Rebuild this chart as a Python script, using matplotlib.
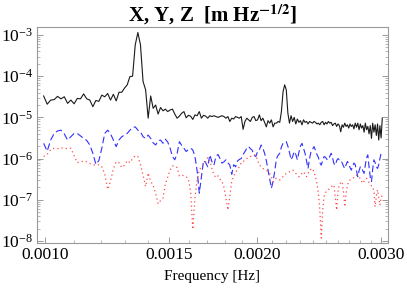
import numpy as np
import matplotlib
matplotlib.use("Agg")
import matplotlib.pyplot as plt
from matplotlib.ticker import FixedLocator, FixedFormatter, LogLocator, LogFormatterMathtext, NullFormatter

plt.rcParams['font.family'] = ['Liberation Serif', 'DejaVu Serif']
plt.rcParams['mathtext.fontset'] = 'stix'

# frequency bins (index k, frequency = k / 86400 Hz)
k_start = 86
bin_width_hz = 1.0 / 86400.0

# log10 of amplitude spectral densities [m Hz^-1/2]
x_log = [
    -4.48, -4.68, -4.58, -4.57, -4.49, -4.55, -4.50, -4.66, -4.58, -4.67,
    -4.54, -4.55, -4.43, -4.55, -4.58, -4.74, -4.59, -4.61, -4.46, -4.50,
    -4.42, -4.58, -4.44, -4.60, -4.39, -4.39, -4.29, -4.21, -4.01, -4.00,
    -3.24, -2.94, -3.24, -4.13, -4.33, -5.02, -4.48, -4.78, -4.70, -4.92,
    -4.76, -4.84, -4.80, -4.86, -4.82, -4.80, -4.92, -5.02, -4.97, -4.90,
    -4.86, -5.01, -4.95, -4.97, -5.05, -4.94, -4.96, -4.86, -5.02, -4.95,
    -4.97, -5.02, -4.96, -4.98, -4.96, -4.98, -5.00, -4.98, -4.96, -4.98,
    -5.02, -4.98, -5.10, -5.02, -5.04, -4.98, -5.00, -5.02, -4.98, -5.29,
    -5.10, -5.02, -5.06, -5.10, -5.00, -4.98, -5.08, -5.06, -4.94, -5.08,
    -5.02, -5.12, -5.23, -5.08, -5.14, -5.06, -5.23, -5.14, -5.14, -5.10,
    -5.12, -4.86, -4.38, -4.21, -4.33, -4.90, -5.14, -4.96, -5.10, -5.00,
    -5.16, -5.04, -5.12, -5.08, -5.18, -5.06, -5.12, -5.10, -5.16, -5.10,
    -5.12, -5.14, -5.10, -5.12, -5.16, -5.14, -5.18, -5.12, -5.10, -5.18,
    -5.12, -5.16, -5.10, -5.14, -5.12, -5.20, -5.16, -5.14, -5.22, -5.16,
    -5.20, -5.35, -5.18, -5.24, -5.14, -5.22, -5.18, -5.26, -5.16, -5.22,
    -5.18, -5.28, -5.14, -5.24, -5.14, -5.30, -5.16, -5.26, -5.20, -5.36,
    -5.14, -5.30, -5.22, -5.40, -5.20, -5.51, -5.14, -5.36, -5.18, -5.44,
    -5.16, -5.55, -5.20, -5.50, -5.02,
]

y_log = [
    -5.63, -5.82, -5.55, -5.39, -5.33, -5.31, -5.40, -5.55, -5.47, -5.39,
    -5.39, -5.45, -5.51, -5.56, -5.67, -5.87, -6.14, -6.05, -5.75, -5.39,
    -5.31, -5.40, -5.55, -5.71, -5.55, -5.47, -5.43, -5.39, -5.31, -5.25,
    -5.23, -5.31, -5.35, -5.47, -5.51, -5.43, -5.51, -5.62, -5.67, -5.57,
    -5.55, -5.63, -5.53, -5.60, -5.75, -5.95, -6.03, -5.88, -5.59, -5.68,
    -5.75, -5.83, -5.78, -5.75, -5.79, -5.95, -6.30, -6.84, -6.45, -6.05,
    -6.10, -6.20, -5.91, -6.07, -6.16, -5.95, -5.90, -6.00, -6.11, -6.08,
    -6.03, -6.10, -6.16, -6.38, -6.15, -6.20, -6.06, -6.02, -6.00, -5.90,
    -5.83, -5.75, -5.71, -5.76, -5.80, -5.92, -5.95, -5.83, -5.79, -5.67,
    -5.75, -5.87, -6.05, -6.28, -6.50, -6.72, -6.55, -6.30, -6.00, -5.92,
    -5.87, -5.72, -5.63, -5.60, -5.59, -5.70, -5.85, -6.03, -5.95, -5.83,
    -5.90, -6.03, -5.85, -5.70, -5.63, -5.75, -5.87, -6.05, -6.24, -6.00,
    -5.83, -5.78, -5.71, -5.80, -5.90, -5.97, -6.10, -6.16, -6.05, -5.95,
    -5.97, -6.02, -6.03, -5.95, -5.87, -5.98, -6.12, -6.16, -6.05, -6.00,
    -6.03, -6.03, -6.10, -6.18, -6.24, -6.15, -6.07, -6.12, -6.22, -6.28,
    -6.18, -6.11, -6.15, -6.30, -6.44, -6.30, -6.20, -6.22, -6.30, -6.36,
    -6.15, -5.98, -5.91, -6.20, -6.45, -6.56, -6.25, -6.03, -6.10, -6.20,
    -6.24, -6.15, -6.00, -5.87, -5.90,
]

z_log = [
    -5.95, -5.90, -5.78, -5.75, -5.76, -5.74, -5.75, -5.76, -5.75, -5.93,
    -6.10, -6.07, -6.07, -6.08, -6.12, -6.15, -6.16, -6.15, -6.20, -6.38,
    -6.75, -6.55, -6.25, -6.08, -6.10, -6.22, -6.16, -6.05, -6.10, -6.00,
    -5.93, -5.95, -6.15, -6.40, -6.68, -6.35, -6.55, -6.65, -6.85, -7.10,
    -7.02, -6.96, -6.62, -6.45, -6.28, -6.18, -6.18, -6.22, -6.42, -6.40,
    -6.42, -6.44, -6.50, -6.80, -7.72, -6.95, -6.52, -6.28, -6.20, -6.14,
    -6.08, -5.97, -6.05, -6.24, -6.40, -6.46, -6.42, -6.50, -6.55, -6.70,
    -6.96, -7.25, -6.90, -6.56, -6.42, -6.35, -6.26, -6.20, -6.10, -6.08,
    -6.03, -6.00, -5.98, -5.95, -5.93, -5.91, -5.92, -6.05, -6.15, -6.20,
    -6.24, -6.26, -6.28, -6.32, -6.36, -6.45, -6.56, -6.50, -6.48, -6.50,
    -6.52, -6.48, -6.44, -6.40, -6.36, -6.34, -6.32, -6.30, -6.28, -6.32,
    -6.36, -6.40, -6.44, -6.42, -6.36, -6.32, -6.38, -6.44, -6.36, -6.28,
    -6.26, -6.24, -6.32, -6.44, -6.60, -6.84, -7.25, -7.93, -7.25, -6.92,
    -6.82, -6.80, -6.76, -6.72, -6.68, -6.66, -6.64, -6.95, -7.25, -6.80,
    -6.62, -6.58, -6.56, -6.80, -7.17, -6.85, -6.65, -6.55, -6.52, -6.50,
    -6.48, -6.46, -6.44, -6.40, -6.42, -6.46, -6.48, -6.55, -6.60, -6.55,
    -6.50, -6.48, -6.52, -6.58, -6.62, -6.66, -6.68, -6.80, -7.17, -6.90,
    -6.76, -6.95, -7.13, -6.95, -6.88,
]

x_major = [0.0010, 0.0015, 0.0020, 0.0030]
x_major_labels = ["0.0010", "0.0015", "0.0020", "0.0030"]

freq_x = (k_start + np.arange(len(x_log))) * bin_width_hz
freq_y = (k_start + np.arange(len(y_log))) * bin_width_hz
freq_z = (k_start + np.arange(len(z_log))) * bin_width_hz

fig = plt.figure(figsize=(4.07, 2.89), dpi=100)
ax = fig.add_axes([37/407, 1-243/289, 351/407, 216/289])

ax.plot(freq_x, 10**np.array(x_log), color='#1a1a1a', lw=0.8)
ax.plot(freq_y, 10**np.array(y_log), color='#3030ff', lw=0.8, dashes=(6, 3))
ax.plot(freq_z, 10**np.array(z_log), color='#ff4a4a', lw=0.9, dashes=(1, 2.4))

ax.set_xscale('log')
ax.set_yscale('log')
ax.set_xlim(0.000974, 0.003066)
ax.set_ylim(10**-8.05, 10**-2.806)

ax.xaxis.set_major_locator(FixedLocator(x_major))
ax.xaxis.set_major_formatter(FixedFormatter(x_major_labels))
minor = [m * 1e-4 for m in range(10, 31) if m not in (10, 15, 20, 30)]
ax.xaxis.set_minor_locator(FixedLocator(minor))
ax.xaxis.set_minor_formatter(NullFormatter())

ax.yaxis.set_major_locator(LogLocator(base=10, numticks=20))
ax.yaxis.set_major_formatter(LogFormatterMathtext())
ax.yaxis.set_minor_locator(LogLocator(base=10, subs=np.arange(2, 10), numticks=20))
ax.yaxis.set_minor_formatter(NullFormatter())

frame_col = '#999999'
for s in ax.spines.values():
    s.set_color(frame_col)
    s.set_linewidth(0.8)
ax.tick_params(which='both', direction='in', color=frame_col, right=True, top=False,
               labelsize=12.5, pad=3)
ax.tick_params(which='major', length=4, width=0.7)
ax.tick_params(which='minor', length=2, width=0.5)

ax.set_xlabel("Frequency [Hz]", fontsize=11, labelpad=5)
ax.set_title(r"X, Y, Z  [m Hz$^{\mathbf{-1/2}}$]", fontsize=15, fontweight='bold', pad=4)

fig.savefig("out.png", dpi=100)
